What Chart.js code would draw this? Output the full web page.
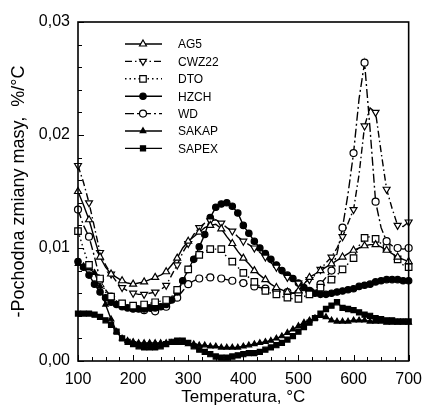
<!DOCTYPE html>
<html><head><meta charset="utf-8">
<script src="https://cdn.jsdelivr.net/npm/chart.js@4.4.1/dist/chart.umd.min.js"></script>
<style>html,body{margin:0;padding:0;background:#fff;overflow:hidden}</style>
</head><body>
<canvas id="c" width="431" height="408"></canvas>
<script>
const temps = [100,110,120,130,140,150,160,170,180,190,200,210,220,230,240,250,260,270,280,290,300,310,320,330,340,350,360,370,380,390,400,410,420,430,440,450,460,470,480,490,500,510,520,530,540,550,560,570,580,590,600,610,620,630,640,650,660,670,680,690,700];
const xTicks = [100,200,300,400,500,600,700];
const yTicks = [0.00,0.01,0.02,0.03];
const seriesNames = ['AG5','CWZ22','DTO','HZCH','WD','SAKAP','SAPEX'];

const AG5 = [0.0150,0.0138,0.0125,0.0108,0.0092,0.0083,0.0077,0.0074,0.0071,0.0069,0.0068,0.0069,0.0070,0.0072,0.0074,0.0076,0.0079,0.0085,0.0091,0.0100,0.0106,0.0110,0.0114,0.0118,0.0120,0.0121,0.0117,0.0110,0.0104,0.0097,0.0091,0.0086,0.0080,0.0076,0.0072,0.0068,0.0065,0.0063,0.0061,0.0060,0.0062,0.0068,0.0074,0.0077,0.0080,0.0083,0.0086,0.0089,0.0092,0.0095,0.0098,0.0100,0.0102,0.0103,0.0103,0.0101,0.0098,0.0095,0.0092,0.0090,0.0088];
const CWZ22 = [0.0173,0.0158,0.0140,0.0118,0.0096,0.0085,0.0077,0.0070,0.0065,0.0062,0.0060,0.0059,0.0059,0.0060,0.0061,0.0063,0.0067,0.0076,0.0085,0.0096,0.0104,0.0112,0.0118,0.0122,0.0124,0.0125,0.0122,0.0118,0.0115,0.0110,0.0106,0.0103,0.0100,0.0096,0.0092,0.0087,0.0083,0.0078,0.0074,0.0071,0.0069,0.0069,0.0072,0.0076,0.0081,0.0087,0.0092,0.0100,0.0110,0.0122,0.0134,0.0165,0.0208,0.0224,0.0220,0.0185,0.0152,0.0135,0.0120,0.0119,0.0123];
const DTO = [0.0115,0.0099,0.0085,0.0079,0.0073,0.0061,0.0057,0.0053,0.0051,0.0049,0.0049,0.0049,0.0050,0.0051,0.0052,0.0053,0.0054,0.0057,0.0063,0.0069,0.0081,0.0087,0.0094,0.0097,0.0099,0.0099,0.0099,0.0092,0.0088,0.0083,0.0078,0.0074,0.0070,0.0066,0.0062,0.0060,0.0059,0.0057,0.0056,0.0055,0.0055,0.0057,0.0059,0.0062,0.0065,0.0068,0.0072,0.0076,0.0081,0.0086,0.0091,0.0102,0.0109,0.0110,0.0108,0.0104,0.0100,0.0096,0.0090,0.0085,0.0083];
const HZCH = [0.0088,0.0083,0.0076,0.0068,0.0061,0.0056,0.0052,0.0050,0.0048,0.0047,0.0046,0.0046,0.0046,0.0047,0.0047,0.0048,0.0050,0.0054,0.0061,0.0071,0.0081,0.0090,0.0101,0.0112,0.0127,0.0136,0.0139,0.0140,0.0137,0.0131,0.0120,0.0113,0.0106,0.0100,0.0095,0.0090,0.0085,0.0080,0.0076,0.0073,0.0069,0.0065,0.0062,0.0060,0.0059,0.0059,0.0060,0.0061,0.0062,0.0063,0.0064,0.0066,0.0067,0.0068,0.0070,0.0071,0.0072,0.0072,0.0072,0.0071,0.0071];
const WD = [0.0134,0.0120,0.0110,0.0092,0.0072,0.0063,0.0057,0.0053,0.0050,0.0048,0.0047,0.0046,0.0045,0.0044,0.0044,0.0045,0.0048,0.0052,0.0056,0.0062,0.0068,0.0071,0.0073,0.0074,0.0074,0.0074,0.0073,0.0072,0.0071,0.0070,0.0069,0.0068,0.0066,0.0065,0.0064,0.0063,0.0062,0.0061,0.0061,0.0060,0.0060,0.0061,0.0062,0.0064,0.0068,0.0074,0.0080,0.0095,0.0118,0.0148,0.0184,0.0232,0.0264,0.0205,0.0141,0.0118,0.0106,0.0102,0.0100,0.0099,0.0100];
const SAKAP = [0.0086,0.0084,0.0082,0.0078,0.0066,0.0050,0.0037,0.0026,0.0020,0.0018,0.0017,0.0016,0.0016,0.0016,0.0016,0.0016,0.0016,0.0016,0.0016,0.0016,0.0015,0.0015,0.0014,0.0014,0.0013,0.0013,0.0012,0.0012,0.0012,0.0012,0.0013,0.0014,0.0015,0.0016,0.0017,0.0018,0.0020,0.0022,0.0025,0.0028,0.0031,0.0034,0.0036,0.0038,0.0040,0.0039,0.0036,0.0035,0.0035,0.0035,0.0036,0.0036,0.0036,0.0035,0.0035,0.0035,0.0034,0.0034,0.0034,0.0034,0.0034];
const SAPEX = [0.0042,0.0042,0.0042,0.0041,0.0039,0.0036,0.0032,0.0026,0.0020,0.0017,0.0015,0.0013,0.0012,0.0012,0.0012,0.0013,0.0015,0.0017,0.0018,0.0018,0.0016,0.0013,0.0010,0.0008,0.0006,0.0004,0.0003,0.0003,0.0004,0.0005,0.0006,0.0007,0.0007,0.0008,0.0010,0.0012,0.0014,0.0016,0.0019,0.0022,0.0026,0.0030,0.0034,0.0038,0.0042,0.0046,0.0049,0.0052,0.0047,0.0046,0.0045,0.0043,0.0041,0.0040,0.0038,0.0037,0.0036,0.0036,0.0035,0.0035,0.0035];

const seriesValues = [AG5, CWZ22, DTO, HZCH, WD, SAKAP, SAPEX];
const styles = [
  {pointStyle:'triangle', rot:0,   bg:'#fff', r:4,   dash:[],          every:2},
  {pointStyle:'triangle', rot:180, bg:'#fff', r:4,   dash:[7,3,1.5,3], every:2},
  {pointStyle:'rect',     rot:0,   bg:'#fff', r:4.6, dash:[1.5,3],     every:2},
  {pointStyle:'circle',   rot:0,   bg:'#000', r:3.2, dash:[],          every:1},
  {pointStyle:'circle',   rot:0,   bg:'#fff', r:3.5, dash:[9,3,2,3],   every:2},
  {pointStyle:'triangle', rot:0,   bg:'#000', r:3.2, dash:[],          every:1},
  {pointStyle:'rect',     rot:0,   bg:'#000', r:3.6, dash:[],          every:1}
];

const datasets = seriesNames.map((name, i) => {
  const s = styles[i];
  return {
    label: name,
    data: temps.map((t, j) => ({x: t, y: seriesValues[i][j]})),
    borderColor: '#000',
    borderWidth: 1.4,
    borderDash: s.dash,
    pointStyle: s.pointStyle,
    pointRotation: s.rot,
    pointBackgroundColor: s.bg,
    pointBorderColor: '#000',
    pointBorderWidth: 1.2,
    pointRadius: ctx => (ctx.dataIndex % s.every === 0 ? s.r : 0),
    pointHoverRadius: 0,
    tension: 0,
    clip: 10,
    _legendR: s.r
  };
});

const framePlugin = {
  id: 'frame',
  afterDraw(chart) {
    const ctx = chart.ctx;
    const {left, right, top, bottom} = chart.chartArea;
    const xs = chart.scales.x, ys = chart.scales.y;
    ctx.save();
    ctx.strokeStyle = '#000';
    ctx.lineWidth = 1.6;
    ctx.strokeRect(left, top, right - left, bottom - top);
    ctx.lineWidth = 1;
    ctx.beginPath();
    for (let t = 100; t <= 700; t += 25) {
      const px = Math.round(xs.getPixelForValue(t)) + 0.5;
      const len = (t % 100 === 0) ? 6 : 4;
      ctx.moveTo(px, bottom); ctx.lineTo(px, bottom - len);
    }
    for (let k = 0; k <= 15; k++) {
      const v = k * 0.002;
      const py = Math.round(ys.getPixelForValue(v)) + 0.5;
      const len = (k % 5 === 0) ? 6 : 4;
      ctx.moveTo(left, py); ctx.lineTo(left + len, py);
    }
    ctx.stroke();
    ctx.restore();
  }
};

const legendPlugin = {
  id: 'inLegend',
  afterDraw(chart) {
    const ctx = chart.ctx;
    chart.data.datasets.forEach((ds, i) => {
      const y = 44 + i * 17.4;
      ctx.save();
      ctx.strokeStyle = '#000';
      ctx.lineWidth = 1.4;
      ctx.setLineDash(ds.borderDash || []);
      ctx.beginPath(); ctx.moveTo(125, y); ctx.lineTo(162, y); ctx.stroke();
      ctx.setLineDash([]);
      ctx.fillStyle = ds.pointBackgroundColor;
      ctx.strokeStyle = '#000';
      ctx.lineWidth = 1.2;
      Chart.helpers.drawPoint(ctx, {pointStyle: ds.pointStyle, rotation: ds.pointRotation, radius: ds._legendR, borderWidth: 1.2}, 143, y);
      ctx.fillStyle = '#000';
      ctx.font = '12px "Liberation Sans", Arial, sans-serif';
      ctx.textBaseline = 'middle';
      ctx.textAlign = 'left';
      ctx.fillText(ds.label, 178, y + 1);
      ctx.restore();
    });
  }
};

Chart.defaults.font.family = '"Liberation Sans", Arial, sans-serif';
Chart.defaults.color = '#000';

new Chart(document.getElementById('c'), {
  type: 'line',
  data: {datasets},
  options: {
    responsive: false,
    animation: false,
    devicePixelRatio: 1,
    layout: {padding: {top: 22, right: 14, left: 0, bottom: 0}},
    plugins: {legend: {display: false}, tooltip: {enabled: false}},
    scales: {
      x: {
        type: 'linear', min: 100, max: 700,
        afterFit: s => { s.height = 47; },
        afterBuildTicks: s => { s.ticks = xTicks.map(v => ({value: v})); },
        grid: {display: false, drawTicks: false},
        border: {display: false},
        ticks: {padding: 9, font: {size: 16}, maxRotation: 0},
        title: {display: true, text: 'Temperatura, °C', font: {size: 17}, padding: {top: 0, bottom: 0}}
      },
      y: {
        type: 'linear', min: 0, max: 0.03,
        afterFit: s => { s.width = 78; },
        afterBuildTicks: s => { s.ticks = yTicks.map(v => ({value: v})); },
        grid: {display: false, drawTicks: false},
        border: {display: false},
        ticks: {padding: 8, font: {size: 16}, callback: v => v.toFixed(2).replace('.', ',')},
        title: {display: true, text: '-Pochodna zmiany masy,  %/°C', font: {size: 18}, padding: {top: 8, bottom: 0}}
      }
    }
  },
  plugins: [framePlugin, legendPlugin]
});
</script>
</body></html>
